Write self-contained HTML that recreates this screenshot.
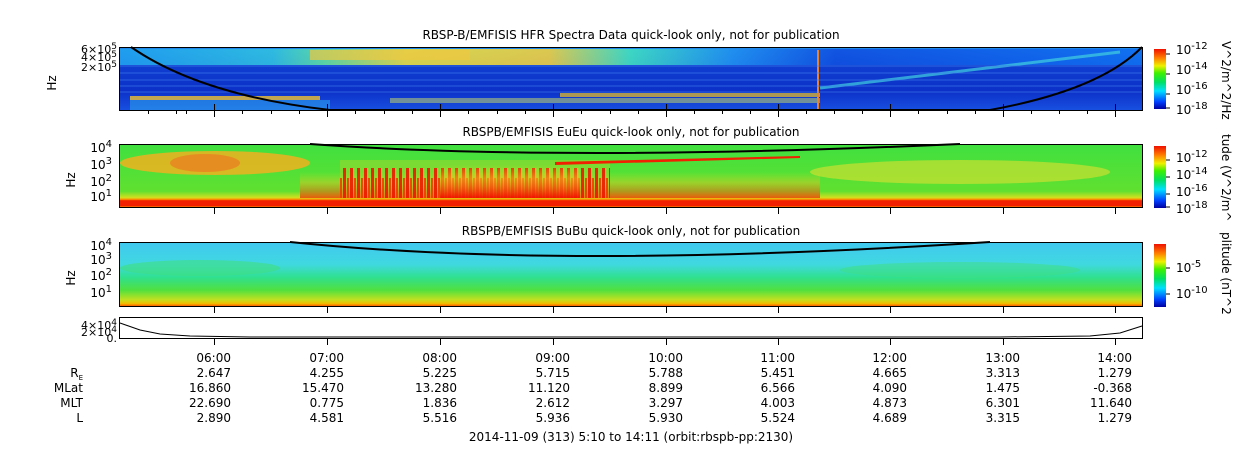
<!DOCTYPE html>
<html><head><meta charset="utf-8"><style>
body{margin:0;background:#fff;}
svg{display:block;font-family:"DejaVu Sans","Liberation Sans",sans-serif;}
</style></head><body>
<svg width="1250" height="449" viewBox="0 0 1250 449" xmlns="http://www.w3.org/2000/svg">
<defs>
<linearGradient id="cb" x1="0" y1="1" x2="0" y2="0">
<stop offset="0" stop-color="#0000a0"/><stop offset="0.12" stop-color="#0040ff"/><stop offset="0.3" stop-color="#00e0ff"/><stop offset="0.45" stop-color="#00e060"/><stop offset="0.6" stop-color="#40f000"/><stop offset="0.72" stop-color="#f0f000"/><stop offset="0.85" stop-color="#ff8000"/><stop offset="1" stop-color="#f01000"/>
</linearGradient>
<linearGradient id="p1" x1="0" y1="0" x2="0" y2="1">
<stop offset="0" stop-color="#2090f0"/><stop offset="0.25" stop-color="#1040d0"/><stop offset="0.7" stop-color="#0c30c8"/><stop offset="1" stop-color="#1850e0"/>
</linearGradient>
<linearGradient id="p1top" x1="0" y1="0" x2="1" y2="0">
<stop offset="0" stop-color="#20a0f0"/><stop offset="0.15" stop-color="#30c0e0"/><stop offset="0.2" stop-color="#60e0a0"/><stop offset="0.28" stop-color="#e8e040"/><stop offset="0.42" stop-color="#f0d040"/><stop offset="0.5" stop-color="#40e0c0"/><stop offset="0.6" stop-color="#2090f0"/><stop offset="0.7" stop-color="#1050e0"/><stop offset="1" stop-color="#1070f0"/>
</linearGradient>
<linearGradient id="p2" x1="0" y1="0" x2="0" y2="1">
<stop offset="0" stop-color="#40e040"/><stop offset="0.75" stop-color="#60e030"/><stop offset="0.85" stop-color="#d0e020"/><stop offset="0.88" stop-color="#ff9000"/><stop offset="0.9" stop-color="#f02000"/><stop offset="0.98" stop-color="#f02000"/><stop offset="1" stop-color="#ff8000"/>
</linearGradient>
<linearGradient id="p3" x1="0" y1="0" x2="0" y2="1">
<stop offset="0" stop-color="#40c8f0"/><stop offset="0.35" stop-color="#40d8e0"/><stop offset="0.55" stop-color="#30e090"/><stop offset="0.75" stop-color="#50e040"/><stop offset="0.9" stop-color="#c0e020"/><stop offset="0.96" stop-color="#f0c000"/><stop offset="1" stop-color="#ff6000"/>
</linearGradient>
<linearGradient id="redsp" x1="0" y1="0" x2="0" y2="1">
<stop offset="0" stop-color="#f0e020" stop-opacity="0"/><stop offset="0.4" stop-color="#f0c020" stop-opacity="0.6"/><stop offset="1" stop-color="#f01000" stop-opacity="0.9"/>
</linearGradient>
<pattern id="stripes" width="7" height="40" patternUnits="userSpaceOnUse">
<rect width="7" height="40" fill="#f0d020" opacity="0.3"/>
<rect x="0" y="8" width="3" height="32" fill="#f01800"/>
<rect x="4" y="18" width="2" height="22" fill="#f04000"/>
</pattern>
</defs>

<g font-size="12" fill="#000" text-anchor="middle">
<text x="631" y="39">RBSP-B/EMFISIS  HFR Spectra Data quick-look only, not for publication</text>
<text x="631" y="136">RBSPB/EMFISIS  EuEu quick-look only, not for publication</text>
<text x="631" y="235">RBSPB/EMFISIS  BuBu quick-look only, not for publication</text>
</g>

<!-- Panel 1 -->
<rect x="119" y="47" width="1023" height="63" fill="url(#p1)"/>
<rect x="119" y="49" width="1023" height="16" fill="url(#p1top)" opacity="0.9"/>
<rect x="310" y="50" width="160" height="10" fill="#f0c840" opacity="0.7"/>
<rect x="130" y="96" width="190" height="4" fill="#f0c030" opacity="0.8"/>
<rect x="130" y="100" width="200" height="10" fill="#30b0f0" opacity="0.5"/>
<rect x="390" y="98" width="430" height="5" fill="#d0e060" opacity="0.5"/>
<rect x="560" y="93" width="260" height="4" fill="#f0c020" opacity="0.7"/>
<line x1="818" y1="50" x2="818" y2="110" stroke="#f08020" stroke-width="2"/>
<path d="M820 88 L1120 52" stroke="#40d0e0" stroke-width="3" fill="none" opacity="0.7"/>
<g stroke="#4080f0" stroke-width="1" opacity="0.6">
<line x1="119" y1="66" x2="1142" y2="66"/><line x1="119" y1="73" x2="1142" y2="73"/><line x1="119" y1="80" x2="1142" y2="80"/><line x1="119" y1="86" x2="1142" y2="86"/><line x1="119" y1="92" x2="1142" y2="92"/>
</g>
<path d="M131 47 Q200 95 330 110 L990 110 Q1100 90 1142 47" stroke="#000" stroke-width="2" fill="none"/>
<rect x="119.5" y="47.5" width="1023" height="63" fill="none" stroke="#000"/>

<!-- Panel 2 -->
<rect x="119" y="144" width="1023" height="63" fill="url(#p2)"/>
<ellipse cx="215" cy="163" rx="95" ry="12" fill="#f0b020" opacity="0.85"/>
<ellipse cx="205" cy="163" rx="35" ry="9" fill="#f07020" opacity="0.6"/>
<ellipse cx="960" cy="172" rx="150" ry="12" fill="#e0e030" opacity="0.6"/>
<rect x="300" y="172" width="520" height="26" fill="url(#redsp)" opacity="0.7"/>
<rect x="340" y="160" width="270" height="38" fill="url(#stripes)" opacity="0.9"/>
<rect x="440" y="165" width="140" height="33" fill="url(#redsp)"/>
<path d="M555 162 L800 156 L800 158 L555 165Z" fill="#f02000"/>
<path d="M310 144 Q560 162 960 144" stroke="#000" stroke-width="2" fill="none"/>
<rect x="119.5" y="144.5" width="1023" height="63" fill="none" stroke="#000"/>

<!-- Panel 3 -->
<rect x="119" y="242" width="1023" height="64" fill="url(#p3)"/>
<ellipse cx="200" cy="268" rx="80" ry="8" fill="#40e080" opacity="0.6"/>
<ellipse cx="960" cy="270" rx="120" ry="8" fill="#40e080" opacity="0.5"/>
<path d="M290 242 Q560 270 990 242" stroke="#000" stroke-width="2" fill="none"/>
<rect x="119.5" y="242.5" width="1023" height="64" fill="none" stroke="#000"/>

<!-- Panel 4 -->
<path d="M120 323 L140 330 L160 334 L190 336 L250 337 L600 337 L1000 337 L1090 336 L1120 333 L1142 326" stroke="#000" fill="none"/>
<rect x="119.5" y="317.5" width="1023" height="21" fill="none" stroke="#000"/>

<g stroke="#000" stroke-width="1">
<path d="M214.5 110v-6M327.5 110v-6M440.5 110v-6M553.5 110v-6M666.5 110v-6M778.5 110v-6M890.5 110v-6M1003.5 110v-6M1115.5 110v-6
M214.5 111v6M327.5 111v6M440.5 111v6M553.5 111v6M666.5 111v6M778.5 111v6M890.5 111v6M1003.5 111v6M1115.5 111v6
M214.5 208v6M327.5 208v6M440.5 208v6M553.5 208v6M666.5 208v6M778.5 208v6M890.5 208v6M1003.5 208v6M1115.5 208v6
M214.5 307v6M327.5 307v6M440.5 307v6M553.5 307v6M666.5 307v6M778.5 307v6M890.5 307v6M1003.5 307v6M1115.5 307v6
M214.5 339v6M327.5 339v6M440.5 339v6M553.5 339v6M666.5 339v6M778.5 339v6M890.5 339v6M1003.5 339v6M1115.5 339v6"/>
<path d="M148.5 111v3M176.5 111v3M186.5 111v3M242.5 111v3M271.5 111v3M299.5 111v3M355.5 111v3M384.5 111v3M412.5 111v3M468.5 111v3M497.5 111v3M525.5 111v3M581.5 111v3M610.5 111v3M638.5 111v3M694.5 111v3M722.5 111v3M750.5 111v3M806.5 111v3M834.5 111v3M862.5 111v3M918.5 111v3M947.5 111v3M975.5 111v3M1031.5 111v3M1059.5 111v3M1087.5 111v3"/>
</g>

<g font-size="11" fill="#000" text-anchor="end">
<text x="117" y="53">6×10<tspan dy="-4" font-size="9">5</tspan></text>
<text x="117" y="61">4×10<tspan dy="-4" font-size="9">5</tspan></text>
<text x="117" y="71">2×10<tspan dy="-4" font-size="9">5</tspan></text>
<text x="112" y="152" font-size="12">10<tspan dy="-5" font-size="10">4</tspan></text>
<text x="112" y="169" font-size="12">10<tspan dy="-5" font-size="10">3</tspan></text>
<text x="112" y="186" font-size="12">10<tspan dy="-5" font-size="10">2</tspan></text>
<text x="112" y="201" font-size="12">10<tspan dy="-5" font-size="10">1</tspan></text>
<text x="112" y="250" font-size="12">10<tspan dy="-5" font-size="10">4</tspan></text>
<text x="112" y="264" font-size="12">10<tspan dy="-5" font-size="10">3</tspan></text>
<text x="112" y="280" font-size="12">10<tspan dy="-5" font-size="10">2</tspan></text>
<text x="112" y="297" font-size="12">10<tspan dy="-5" font-size="10">1</tspan></text>
<text x="117" y="329">4×10<tspan dy="-4" font-size="9">4</tspan></text>
<text x="117" y="336">2×10<tspan dy="-4" font-size="9">4</tspan></text>
<text x="117" y="342">0.</text>
</g>
<g font-size="12" fill="#000">
<text transform="translate(56,83) rotate(-90)" text-anchor="middle">Hz</text>
<text transform="translate(75,180) rotate(-90)" text-anchor="middle">Hz</text>
<text transform="translate(75,278) rotate(-90)" text-anchor="middle">Hz</text>
</g>

<rect x="1154" y="49" width="12" height="60" fill="url(#cb)"/>
<rect x="1154" y="146" width="12" height="62" fill="url(#cb)"/>
<rect x="1154" y="244" width="12" height="63" fill="url(#cb)"/>
<g font-size="12" fill="#000">
<text x="1176" y="54">10<tspan dy="-5" font-size="10">-12</tspan></text>
<text x="1176" y="74">10<tspan dy="-5" font-size="10">-14</tspan></text>
<text x="1176" y="94">10<tspan dy="-5" font-size="10">-16</tspan></text>
<text x="1176" y="114">10<tspan dy="-5" font-size="10">-18</tspan></text>
<text x="1176" y="162">10<tspan dy="-5" font-size="10">-12</tspan></text>
<text x="1176" y="179">10<tspan dy="-5" font-size="10">-14</tspan></text>
<text x="1176" y="196">10<tspan dy="-5" font-size="10">-16</tspan></text>
<text x="1176" y="213">10<tspan dy="-5" font-size="10">-18</tspan></text>
<text x="1176" y="272">10<tspan dy="-5" font-size="10">-5</tspan></text>
<text x="1176" y="298">10<tspan dy="-5" font-size="10">-10</tspan></text>
<text transform="translate(1222,41) rotate(90)">V^2/m^2/Hz</text>
<text transform="translate(1222,134) rotate(90)">tude (V^2/m^</text>
<text transform="translate(1222,232) rotate(90)">plitude (nT^2</text>
</g>
<g stroke="#000"><path d="M1166 54h4M1166 74h4M1166 94h4M1166 108h4M1166 160h4M1166 177h4M1166 194h4M1166 207h4M1166 268h4M1166 294h4"/></g>

<g font-size="12" fill="#000" text-anchor="end">
<text x="83" y="377">R<tspan font-size="7" dy="3">E</tspan></text>
<text x="83" y="392">MLat</text>
<text x="83" y="407">MLT</text>
<text x="83" y="422">L</text>
</g>
<g font-size="12" fill="#000" text-anchor="end">
<text x="231" y="362">06:00</text><text x="231" y="377">2.647</text><text x="231" y="392">16.860</text><text x="231" y="407">22.690</text><text x="231" y="422">2.890</text>
<text x="344" y="362">07:00</text><text x="344" y="377">4.255</text><text x="344" y="392">15.470</text><text x="344" y="407">0.775</text><text x="344" y="422">4.581</text>
<text x="457" y="362">08:00</text><text x="457" y="377">5.225</text><text x="457" y="392">13.280</text><text x="457" y="407">1.836</text><text x="457" y="422">5.516</text>
<text x="570" y="362">09:00</text><text x="570" y="377">5.715</text><text x="570" y="392">11.120</text><text x="570" y="407">2.612</text><text x="570" y="422">5.936</text>
<text x="683" y="362">10:00</text><text x="683" y="377">5.788</text><text x="683" y="392">8.899</text><text x="683" y="407">3.297</text><text x="683" y="422">5.930</text>
<text x="795" y="362">11:00</text><text x="795" y="377">5.451</text><text x="795" y="392">6.566</text><text x="795" y="407">4.003</text><text x="795" y="422">5.524</text>
<text x="907" y="362">12:00</text><text x="907" y="377">4.665</text><text x="907" y="392">4.090</text><text x="907" y="407">4.873</text><text x="907" y="422">4.689</text>
<text x="1020" y="362">13:00</text><text x="1020" y="377">3.313</text><text x="1020" y="392">1.475</text><text x="1020" y="407">6.301</text><text x="1020" y="422">3.315</text>
<text x="1132" y="362">14:00</text><text x="1132" y="377">1.279</text><text x="1132" y="392">-0.368</text><text x="1132" y="407">11.640</text><text x="1132" y="422">1.279</text>
</g>
<text x="631" y="441" font-size="12" text-anchor="middle">2014-11-09 (313) 5:10 to 14:11 (orbit:rbspb-pp:2130)</text>
</svg>
</body></html>
